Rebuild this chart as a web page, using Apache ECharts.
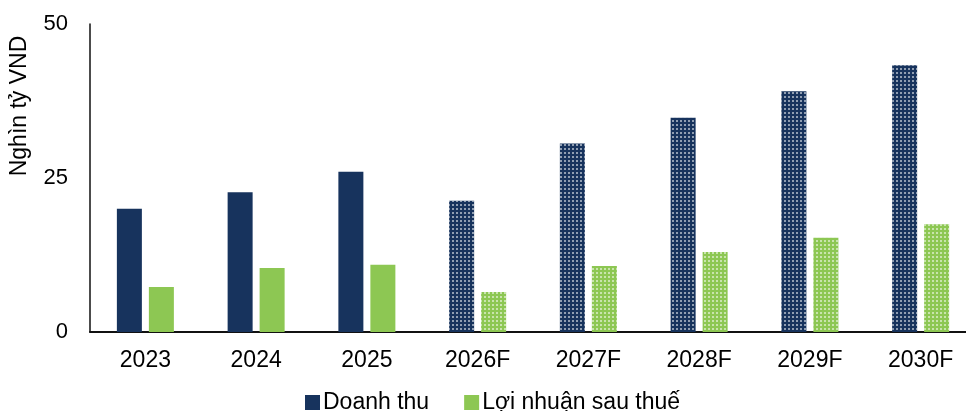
<!DOCTYPE html>
<html>
<head>
<meta charset="utf-8">
<script src="https://cdn.jsdelivr.net/npm/echarts@6/dist/echarts.min.js"></script>
<style>
  html, body { margin: 0; padding: 0; background: #fff; }
  #main { width: 966px; height: 411px; }
</style>
</head>
<body>
<div id="main"></div>
<script>
// số liệu
const categories = ['2023', '2024', '2025', '2026F', '2027F', '2028F', '2029F', '2030F'];
const doanhThu = [20.0, 22.7, 26.0, 21.3, 30.6, 34.8, 39.1, 43.3];
const loiNhuan = [7.3, 10.4, 10.9, 6.5, 10.7, 13.0, 15.3, 17.5];
const yTicks = [0, 25, 50];
const seriesNames = ['Doanh thu', 'Lợi nhuận sau thuế'];

const navy = '#17335d';
const green = '#8dc753';
const font = 'Liberation Sans, Arial, sans-serif';

// chấm trắng cho các năm dự phóng
const dotDecal = {
  symbol: 'rect',
  symbolSize: 0.7,
  color: '#ffffff',
  dashArrayX: [2, 2],
  dashArrayY: [2, 2],
  rotation: 0
};

function buildData(values) {
  return values.map((v, i) => {
    if (categories[i].endsWith('F')) {
      return { value: v, itemStyle: { decal: dotDecal } };
    }
    return v;
  });
}

const myChart = echarts.init(document.getElementById('main'));

const option = {
  backgroundColor: '#fff',
  animation: false,
  textStyle: { fontFamily: font, color: '#000' },
  legend: {
    left: 300,
    top: 386,
    itemWidth: 15,
    itemHeight: 15,
    itemGap: 35,
    icon: 'rect',
    textStyle: { fontSize: 23, color: '#000', fontFamily: font, padding: [0, 0, 0, -2] },
    data: seriesNames
  },
  grid: {
    left: 90,
    top: 24,
    right: -10,
    bottom: 79,
    containLabel: false,
    outerBoundsMode: 'none'
  },
  xAxis: {
    type: 'category',
    data: categories,
    axisTick: { show: false },
    axisLine: { lineStyle: { color: '#111', width: 2 } },
    axisLabel: { fontSize: 23, color: '#000', margin: 17, fontFamily: font }
  },
  yAxis: {
    type: 'value',
    min: yTicks[0],
    max: yTicks[yTicks.length - 1],
    interval: yTicks[1] - yTicks[0],
    splitLine: { show: false },
    axisTick: { show: false },
    axisLine: { show: true, lineStyle: { color: '#111', width: 1.5 } },
    axisLabel: { fontSize: 22, color: '#000', margin: 22, fontFamily: font }
  },
  graphic: [{
    type: 'text',
    x: 20,
    y: 106,
    rotation: Math.PI / 2,
    style: {
      text: 'Nghìn tỷ VND',
      font: '23px ' + font,
      fill: '#000',
      align: 'center',
      verticalAlign: 'middle'
    }
  }],
  series: [
    {
      name: seriesNames[0],
      type: 'bar',
      barWidth: 25,
      barGap: '28%',
      itemStyle: { color: navy },
      data: buildData(doanhThu)
    },
    {
      name: seriesNames[1],
      type: 'bar',
      barWidth: 25,
      itemStyle: { color: green },
      data: buildData(loiNhuan)
    }
  ]
};

myChart.setOption(option);
</script>
</body>
</html>
